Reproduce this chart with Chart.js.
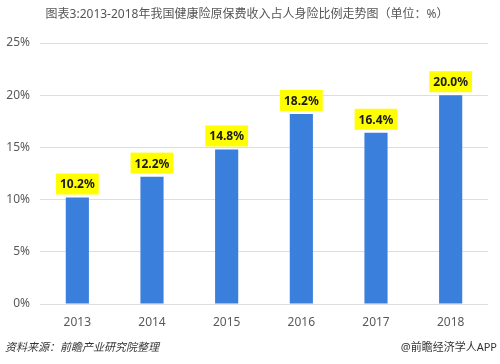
<!DOCTYPE html>
<html>
<head>
<meta charset="utf-8">
<script src="https://cdn.jsdelivr.net/npm/chart.js@4/dist/chart.umd.min.js"></script>
<style>
html,body{margin:0;padding:0;background:#fff;}
#wrap{width:500px;height:364px;position:relative;}
</style>
</head>
<body>
<div id="wrap"><canvas id="c" width="500" height="364"></canvas></div>
<script>
const categories = ['2013', '2014', '2015', '2016', '2017', '2018'];
const shareValues = [10.2, 12.2, 14.8, 18.2, 16.4, 20.0];
const yTicks = [0, 5, 10, 15, 20, 25];
const titleText = '图表3:2013-2018年我国健康险原保费收入占人身险比例走势图（单位：%）';
const sourceText = '资料来源：前瞻产业研究院整理';
const brandText = '@前瞻经济学人APP';

const FONT = '"Noto Sans", "Noto Sans CJK SC", sans-serif';

const labelPlugin = {
  id: 'labelBoxes',
  afterDatasetsDraw(chart) {
    const ctx = chart.ctx;
    const meta = chart.getDatasetMeta(0);
    ctx.save();
    ctx.font = 'bold 12px ' + FONT;
    ctx.textAlign = 'center';
    ctx.textBaseline = 'middle';
    meta.data.forEach((bar, i) => {
      const txt = shareValues[i].toFixed(1) + '%';
      const w = ctx.measureText(txt).width + 8;
      const h = 21;
      const x = bar.x;
      const bottom = bar.y - 3;
      ctx.fillStyle = '#ffff00';
      ctx.fillRect(x - w / 2, bottom - h, w, h);
      ctx.fillStyle = '#1a1a1a';
      ctx.fillText(txt, x, bottom - h / 2 + 1);
    });
    ctx.restore();
  }
};

const textPlugin = {
  id: 'extraText',
  afterDraw(chart) {
    const ctx = chart.ctx;
    ctx.save();
    ctx.fillStyle = '#555555';
    ctx.font = '12px ' + FONT;
    ctx.textAlign = 'center';
    ctx.textBaseline = 'middle';
    ctx.fillText(titleText, 247, 15);
    ctx.font = 'italic 11px ' + FONT;
    ctx.textAlign = 'left';
    ctx.fillStyle = '#333333';
    ctx.fillText(sourceText, 5, 348);
    ctx.font = '11px ' + FONT;
    ctx.textAlign = 'right';
    ctx.fillText(brandText, 497, 348);
    ctx.restore();
  }
};

new Chart(document.getElementById('c'), {
  type: 'bar',
  data: {
    labels: categories,
    datasets: [{
      data: shareValues,
      backgroundColor: '#3b7fdc',
      barPercentage: 0.62,
      categoryPercentage: 0.5
    }]
  },
  options: {
    responsive: false,
    animation: false,
    layout: { padding: { top: 43, right: 12, bottom: 30, left: 0 } },
    plugins: { legend: { display: false }, tooltip: { enabled: false }, title: { display: false } },
    scales: {
      x: {
        grid: { display: false, drawTicks: false },
        border: { display: false },
        ticks: { color: '#595959', font: { family: FONT, size: 12 }, padding: 11 },
        afterFit(s) { s.height = 30; }
      },
      y: {
        min: 0, max: 25,
        afterBuildTicks(s) { s.ticks = yTicks.map(v => ({ value: v })); },
        grid: { color: '#dedede', drawTicks: false },
        border: { display: false },
        ticks: { color: '#595959', font: { family: FONT, size: 12 }, padding: 10, callback: v => v + '%' },
        afterFit(s) { s.width = 40; }
      }
    }
  },
  plugins: [labelPlugin, textPlugin]
});
</script>
</body>
</html>
